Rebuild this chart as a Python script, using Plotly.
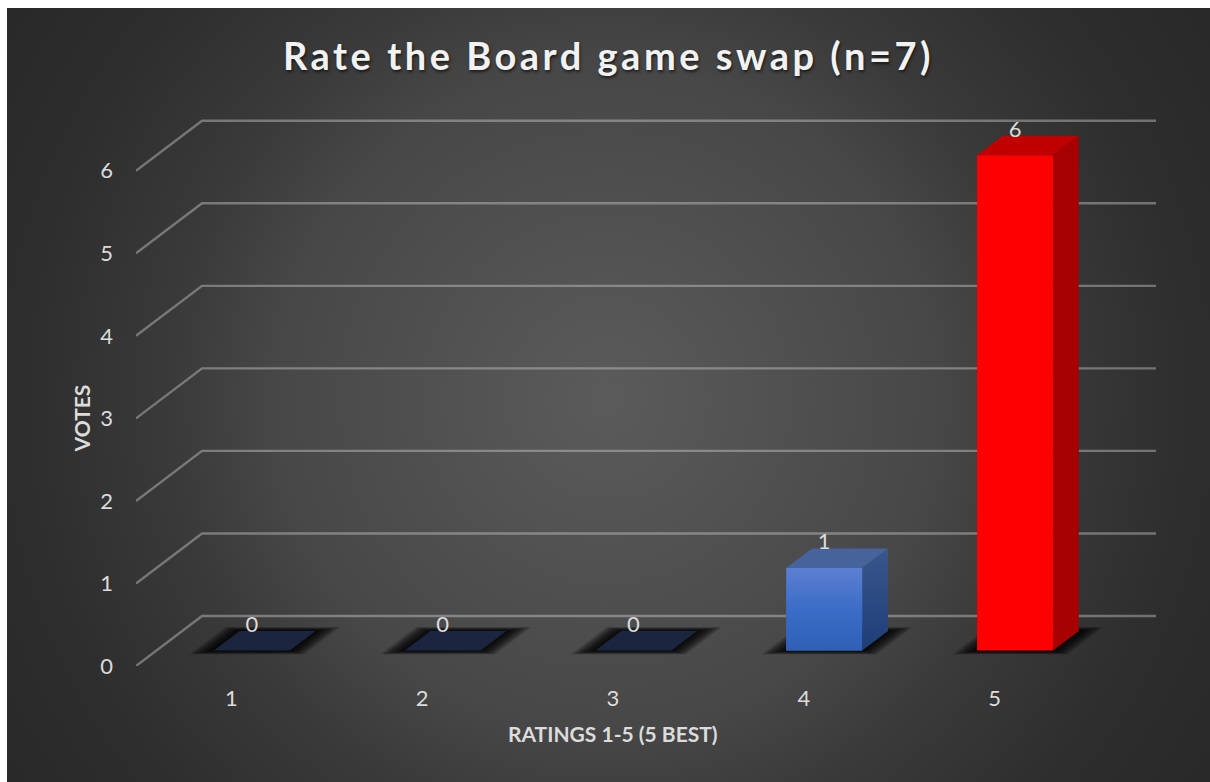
import base64
import plotly.graph_objects as go

ratings = [1, 2, 3, 4, 5]
votes = [0, 0, 0, 1, 6]
y_ticks = [0, 1, 2, 3, 4, 5, 6]
title_text = "Rate the Board game swap (n=7)"
x_title = "RATINGS 1-5 (5 BEST)"
y_title = "VOTES"

# colours of each column's faces
front_colors = ["#3a6bc6", "#3a6bc6", "#3a6bc6", "#3a6bc6", "#ff0000"]
top_colors = ["#1b2540", "#1b2540", "#1b2540", "#47639c", "#c00000"]
side_colors = ["#2b4a82", "#2b4a82", "#2b4a82", "#2b4a82", "#a60000"]

W, H = 1203, 774
ML, MR, MT, MB = 129, 54, 105, 116
TEXT = "#dcdcdc"
FONT = "Lato"

# the axes are the front plane of the fake 3D box; depth goes back and up
DEPTH_X = 0.346
DEPTH_Y = 0.606
BAR_W = 0.398
BAR_D0 = 0.31
BAR_D1 = 0.70


def pt(x, d, v):
    return x + d * DEPTH_X, v + d * DEPTH_Y


def poly(points):
    xs = [p[0] for p in points] + [points[0][0]]
    ys = [p[1] for p in points] + [points[0][1]]
    return xs, ys


def face(points, color=None, gradient=None):
    xs, ys = poly(points)
    kw = dict(fillgradient=gradient) if gradient else dict(fillcolor=color)
    return go.Scatter(x=xs, y=ys, mode="lines", fill="toself", line=dict(width=0),
                      hoverinfo="skip", showlegend=False, **kw)


background = """<svg xmlns="http://www.w3.org/2000/svg" width="1203" height="774" viewBox="0 0 1203 774" preserveAspectRatio="none">
<defs><radialGradient id="g" gradientUnits="userSpaceOnUse" cx="600" cy="390" r="725">
<stop offset="0" stop-color="#5b5b5b"/><stop offset="0.46" stop-color="#474747"/>
<stop offset="0.6" stop-color="#3a3a3a"/><stop offset="0.8" stop-color="#2e2e2e"/>
<stop offset="1" stop-color="#282828"/>
</radialGradient></defs><rect width="1203" height="774" fill="url(#g)"/></svg>"""

fig = go.Figure()

# front faces
fig.add_trace(go.Bar(
    x=ratings, y=votes,
    base=BAR_D0 * DEPTH_Y,
    width=BAR_W,
    offset=BAR_D0 * DEPTH_X - BAR_W / 2,
    marker=dict(color=front_colors, line_width=0),
    hovertemplate="Rating %{x}: %{y}<extra></extra>",
    showlegend=False,
))

shapes = []
# back wall and side wall lines
for v in y_ticks:
    bx, by = pt(0.5, 1, v)
    shapes.append(dict(type="path", xref="x", yref="y", layer="below",
                       path=f"M {0.5} {v} L {bx} {by} L {5.5 + DEPTH_X} {by}",
                       line=dict(color="rgba(217,217,217,0.4)", width=2.4)))

# soft shadow on the floor, built from stacked parallelograms
SHADOW_STEPS = 20
for r in ratings:
    left = r - BAR_W / 2
    right = r + BAR_W / 2
    for i in range(SHADOW_STEPS):
        gx = (SHADOW_STEPS - i) * 1.0 / 190.8
        gd = (SHADOW_STEPS - i) * 0.2 / 50
        a = pt(left - gx, BAR_D0 - gd, 0)
        b = pt(right + gx, BAR_D0 - gd, 0)
        c = pt(right + gx, BAR_D1 + gd, 0)
        e = pt(left - gx, BAR_D1 + gd, 0)
        shapes.append(dict(type="path", xref="x", yref="y", layer="below",
                           path=f"M {a[0]} {a[1]} L {b[0]} {b[1]} L {c[0]} {c[1]} L {e[0]} {e[1]} Z",
                           fillcolor="rgba(0,0,0,0.075)", line=dict(width=0)))

# top and side faces
for r, v, top_c, side_c, front_c in zip(ratings, votes, top_colors, side_colors, front_colors):
    left = r - BAR_W / 2
    right = r + BAR_W / 2
    fig.add_trace(face([pt(left, BAR_D0, v), pt(right, BAR_D0, v),
                        pt(right, BAR_D1, v), pt(left, BAR_D1, v)], color=top_c))
    if v == 0:
        continue
    side = [pt(right, BAR_D0, 0), pt(right, BAR_D1, 0), pt(right, BAR_D1, v), pt(right, BAR_D0, v)]
    if side_c == "#2b4a82":
        # the blue column is shaded from top to bottom
        fig.add_trace(face(side, gradient=dict(type="vertical",
                                               colorscale=[[0, "#1e3e78"], [1, "#3a568c"]])))
        fig.add_trace(face([pt(left, BAR_D0, 0), pt(right, BAR_D0, 0),
                            pt(right, BAR_D0, v), pt(left, BAR_D0, v)],
                           gradient=dict(type="vertical",
                                         colorscale=[[0, "#2f60b6"], [0.5, "#3b6cc7"], [1, "#5c80d1"]])))
    else:
        fig.add_trace(face(side, color=side_c))

# data labels
fig.add_trace(go.Scatter(
    x=[pt(r, BAR_D0, 0)[0] for r in ratings],
    y=[pt(r, BAR_D0, v)[1] + 24 / 82.5 for r, v in zip(ratings, votes)],
    text=[str(v) for v in votes],
    mode="text", textposition="middle center",
    textfont=dict(family=FONT, size=22, color=TEXT),
    hoverinfo="skip", showlegend=False,
))

pw = W - ML - MR
ph = H - MT - MB

fig.update_layout(
    width=W, height=H,
    margin=dict(l=ML, r=MR, t=MT, b=MB, pad=0),
    paper_bgcolor="#3a3a3a",
    plot_bgcolor="rgba(0,0,0,0)",
    font=dict(family=FONT, color=TEXT),
    title=dict(text=title_text, x=0.5, xref="container", xanchor="center",
               y=1 - 49 / H, yref="container", yanchor="middle",
               font=dict(family=FONT, size=38, weight="bold", color="#f2f2f2",
                         shadow="1px 2px 3px rgba(0,0,0,0.6)")),
    xaxis=dict(range=[0.5, 5.5 + DEPTH_X], tickvals=ratings, ticktext=[str(r) for r in ratings],
               showgrid=False, zeroline=False, showline=False, ticks="",
               ticklabelstandoff=17, tickfont=dict(family=FONT, size=22, color=TEXT)),
    yaxis=dict(range=[0, 6.7], tickvals=y_ticks,
               showgrid=False, zeroline=False, showline=False, ticks="",
               ticklabelstandoff=22, tickfont=dict(family=FONT, size=22, color=TEXT)),
    shapes=shapes,
    images=[dict(source="data:image/svg+xml;base64," + base64.b64encode(background.encode()).decode(),
                 xref="paper", yref="paper", x=-ML / pw, y=1 + MT / ph,
                 sizex=W / pw, sizey=H / ph, sizing="stretch",
                 xanchor="left", yanchor="top", layer="below")],
    annotations=[
        dict(text=x_title, xref="x", x=3, yref="paper", y=0, yshift=-67, yanchor="middle",
             xanchor="center", showarrow=False,
             font=dict(family=FONT, size=21, weight="bold", color=TEXT)),
        dict(text=y_title, xref="paper", x=0, xshift=-55, yref="y", y=3, yanchor="middle",
             xanchor="center", showarrow=False, textangle=-90,
             font=dict(family=FONT, size=21, weight="bold", color=TEXT)),
    ],
)

fig.write_html("out.html", post_script=(
    "document.querySelector('.gtitle').style.letterSpacing='3.5px';"
    "document.body.style.margin='8px 0 0 7px';"
    "document.body.style.width='1203px';"
    "document.documentElement.style.overflow='hidden';"
))
